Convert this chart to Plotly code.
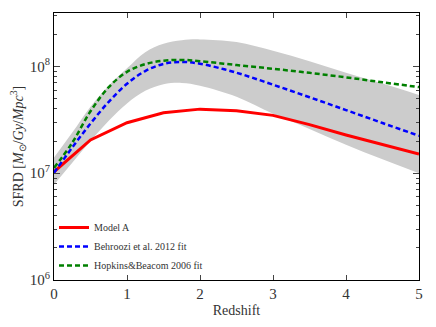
import plotly.graph_objects as go

# Redshift sample points
z = [0, 0.25, 0.5, 0.75, 1, 1.25, 1.5, 1.75, 2, 2.5, 3, 3.5, 4, 4.5, 5]

# Model A (sampled at half-unit redshift steps)
z_model = [0, 0.5, 1, 1.5, 2, 2.5, 3, 3.5, 4, 4.5, 5]
sfrd_model = [1.03e7, 2.05e7, 2.97e7, 3.68e7, 3.98e7, 3.84e7, 3.48e7, 2.85e7, 2.28e7, 1.86e7, 1.51e7]

# Behroozi et al. 2012 fit
sfrd_behroozi = [1.01e7, 1.74e7, 2.92e7, 4.66e7, 6.87e7, 9.05e7, 1.054e8, 1.10e8, 1.06e8,
                 8.72e7, 6.74e7, 5.14e7, 3.90e7, 2.95e7, 2.24e7]

# Hopkins & Beacom 2006 fit
sfrd_hopkins = [1.12e7, 1.93e7, 3.8e7, 6.4e7, 8.9e7, 1.05e8, 1.13e8, 1.15e8, 1.12e8,
                1.03e8, 9.5e7, 8.7e7, 7.9e7, 7.1e7, 6.4e7]

# Uncertainty band around the Behroozi fit
band_upper = [1.4e7, 2.4e7, 4.2e7, 6.6e7, 9.6e7, 1.36e8, 1.63e8, 1.76e8, 1.79e8,
              1.69e8, 1.40e8, 1.12e8, 8.7e7, 6.9e7, 5.4e7]
band_lower = [7.8e6, 1.25e7, 2.0e7, 3.1e7, 4.5e7, 5.9e7, 6.8e7, 7.0e7, 6.6e7,
              5.2e7, 3.6e7, 2.6e7, 1.85e7, 1.35e7, 1.0e7]

x_ticks = [0, 1, 2, 3, 4, 5]
y_ticks = [1e6, 1e7, 1e8]
y_tick_labels = ["10<sup>6</sup>", "10<sup>7</sup>", "10<sup>8</sup>"]
y_minor_ticks = [m * d for d in (1e6, 1e7) for m in range(2, 10)] + [2e8, 3e8]

FONT = "Liberation Serif"

fig = go.Figure()

fig.add_trace(go.Scatter(x=z, y=band_lower, mode="lines", line=dict(width=0, shape="spline"),
                         showlegend=False, hoverinfo="skip"))
fig.add_trace(go.Scatter(x=z, y=band_upper, mode="lines", line=dict(width=0, shape="spline"),
                         fill="tonexty", fillcolor="#cccccc",
                         showlegend=False, hoverinfo="skip"))

fig.add_trace(go.Scatter(x=z_model, y=sfrd_model, mode="lines", name="Model A",
                         line=dict(color="#ff0000", width=3)))
fig.add_trace(go.Scatter(x=z, y=sfrd_behroozi, mode="lines", name="Behroozi et al. 2012 fit",
                         line=dict(color="#0000ff", width=2.5, dash="5px,3px", shape="spline")))
fig.add_trace(go.Scatter(x=z, y=sfrd_hopkins, mode="lines", name="Hopkins&amp;Beacom 2006 fit",
                         line=dict(color="#008000", width=2.5, dash="5px,3px", shape="spline")))

fig.update_layout(
    width=436, height=327,
    margin=dict(l=54, r=17, t=13, b=47),
    paper_bgcolor="white", plot_bgcolor="white",
    font=dict(family=FONT, color="#333333", size=13),
    legend=dict(x=0.0, y=0.0, xanchor="left", yanchor="bottom", traceorder="normal",
                bgcolor="rgba(0,0,0,0)", font=dict(size=10, family=FONT, color="#333333"),
                itemwidth=30, tracegroupgap=0),
    xaxis=dict(range=[0, 5], tickvals=x_ticks, ticks="inside", ticklen=5,
               showline=True, linecolor="black", linewidth=1, mirror="ticks",
               showgrid=False, zeroline=False, automargin=False,
               title=dict(text="Redshift", font=dict(size=14, family=FONT), standoff=4),
               tickfont=dict(size=15, family=FONT)),
    yaxis=dict(type="log", range=[6, 8.5], tickvals=y_ticks, ticktext=y_tick_labels,
               ticks="inside", ticklen=6,
               minor=dict(ticks="inside", ticklen=3, tickvals=y_minor_ticks, showgrid=False),
               showline=True, linecolor="black", linewidth=1, mirror="ticks",
               showgrid=False, zeroline=False, automargin=False,
               title=dict(text="SFRD [<i>M</i><sub>⊙</sub>/<i>Gy</i>/<i>Mpc</i><sup>3</sup>]",
                          font=dict(size=14, family=FONT), standoff=2),
               tickfont=dict(size=15, family=FONT)),
)

fig.write_html("out.html", config={"displayModeBar": False},
               post_script="document.body.style.margin='0';")
